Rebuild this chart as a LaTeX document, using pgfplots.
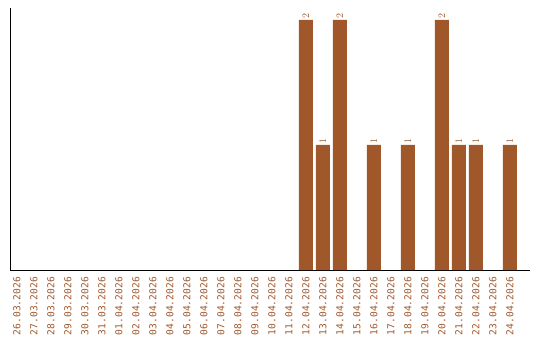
\documentclass[border=0pt]{standalone}
\usepackage{pgfplots}
\pgfplotsset{compat=1.18}
\usepackage{fontspec}
\setmainfont{DejaVu Sans Mono}
\definecolor{barc}{HTML}{A0572A}
\begin{document}
\begin{tikzpicture}
\begin{axis}[
  at={(0,0)}, anchor=south west,
  scale only axis, width=520pt, height=262pt,
  xmin=-0.41, xmax=30.18, ymin=0, ymax=2.096,
  axis x line*=bottom, axis y line*=left,
  axis line style={black, line width=1pt},
  ytick=\empty,
  xtick={0,...,29},
  major tick length=0pt,
  xticklabels={26.03.2026,27.03.2026,28.03.2026,29.03.2026,30.03.2026,31.03.2026,01.04.2026,02.04.2026,03.04.2026,04.04.2026,05.04.2026,06.04.2026,07.04.2026,08.04.2026,09.04.2026,10.04.2026,11.04.2026,12.04.2026,13.04.2026,14.04.2026,15.04.2026,16.04.2026,17.04.2026,18.04.2026,19.04.2026,20.04.2026,21.04.2026,22.04.2026,23.04.2026,24.04.2026},
  xticklabel style={rotate=90, anchor=east, inner sep=0pt, text=barc, font=\fontsize{9.6}{10}\selectfont},
  xticklabel shift=7pt,
  ybar, bar width=14pt, bar shift=0pt,
  nodes near coords,
  every node near coord/.append style={rotate=90, anchor=west, inner sep=1.5pt, text=barc, font=\fontsize{9.6}{10}\selectfont},
  clip=false,
]
\addplot[fill=barc, draw=none] coordinates {
  (17,2) (18,1) (19,2) (21,1) (23,1) (25,2) (26,1) (27,1) (29,1)
};
\end{axis}
\pgfresetboundingbox
\path (-10pt,-70pt) rectangle (530pt,270pt);
\end{tikzpicture}
\end{document}
